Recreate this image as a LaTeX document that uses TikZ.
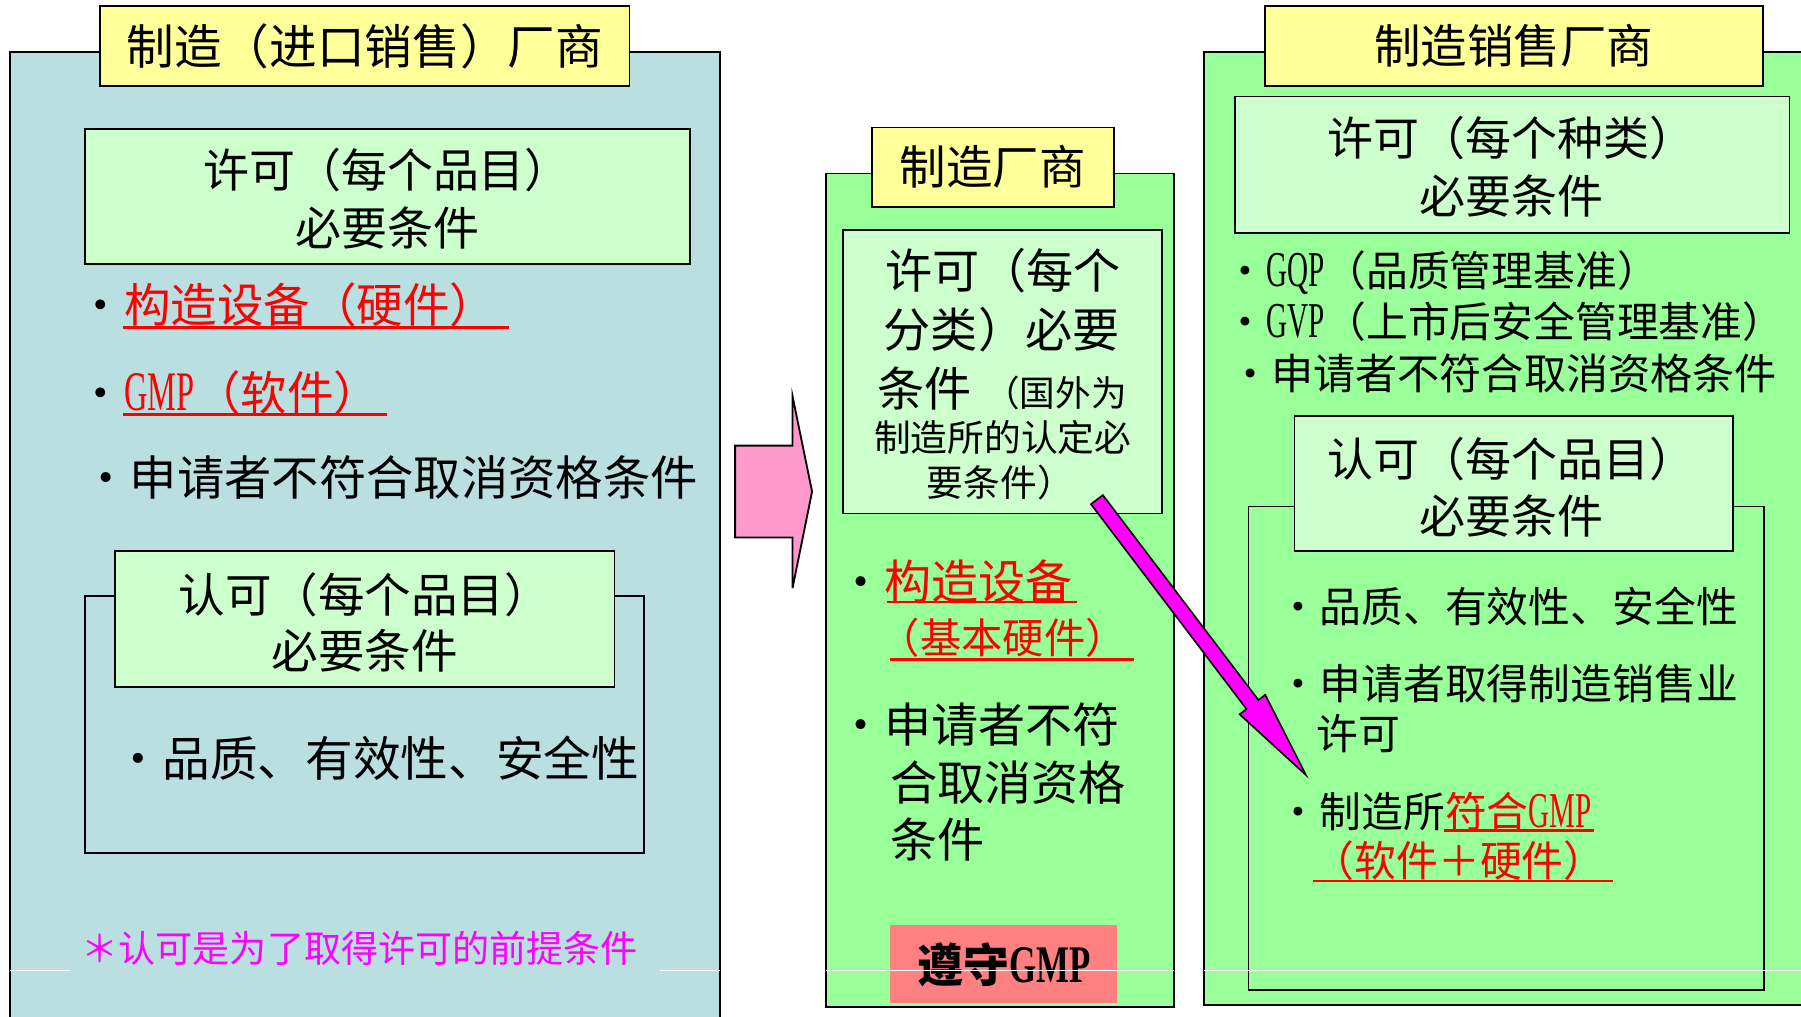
\documentclass[tikz,border=0pt]{standalone}
\usepackage{fontspec}
\setmainfont{Noto Sans CJK SC}
\newfontfamily\latn{Liberation Serif}[Scale=1.2, FakeStretch=0.58]
\newfontfamily\latb{Liberation Serif}[Scale=1.15, FakeStretch=0.66]
\newcommand\fsz[2]{\fontsize{#1}{#2}\selectfont}
\definecolor{lblue}{RGB}{185,223,225}
\definecolor{lyellow}{RGB}{255,255,153}
\definecolor{pgreen}{RGB}{204,255,204}
\definecolor{mgreen}{RGB}{153,255,153}
\definecolor{pinkarr}{RGB}{255,153,204}
\definecolor{salmon}{RGB}{255,128,128}
\definecolor{mag}{RGB}{255,0,255}
\definecolor{ured}{RGB}{255,0,0}
\tikzset{
  boxr/.style={draw=black, line width=1.6pt, anchor=north west, inner sep=0pt, outer sep=0pt},
  txt/.style={inner sep=0pt, outer sep=0pt},
  lt/.style={txt, anchor=west},
  ul/.style={draw=ured, line width=2.2pt},
  artline/.style={draw=white, line width=0.8pt},
}
\begin{document}
\begin{tikzpicture}[x=1pt,y=-1pt]
\useasboundingbox (0,0) rectangle (1568,885);
\fill[white] (0,0) rectangle (1568,885);
\clip (0,0) rectangle (1568,885);

% ---------------- left panel ----------------
\node[boxr, fill=lblue, minimum width=618pt, minimum height=860pt] (Lp) at (9,45) {};
\node[boxr, fill=lyellow, minimum width=461pt, minimum height=70pt] (Lt) at (87,5) {};
\node[txt, font=\fsz{41.5}{41.5}] (Ltt) at (Lt.center) {制造（进口销售）厂商};
\node[boxr, fill=pgreen, minimum width=527pt, minimum height=118pt] (Lx) at (74,112) {};
\node[txt, align=center, font=\fsz{40}{50}] (Lxt) at (337,173) {许可（每个品目）\\必要条件};
\node[lt, font=\fsz{40.5}{40.5}] (Lb1) at (67.5,265.5) {・\textcolor{ured}{构造设备（硬件）}};
\draw[ul] (107,285) -- (443,285);
\node[lt, font=\fsz{40.5}{40.5}] (Lb2) at (67.5,342) {・\textcolor{ured}{{\latn GMP}（软件）}};
\draw[ul] (107,361) -- (337,361);
\node[lt, font=\fsz{41.2}{41.2}] (Lb3) at (71.8,416) {・申请者不符合取消资格条件};
\node[boxr, fill=none, minimum width=487pt, minimum height=224pt] (Lf) at (74,519) {};
\node[boxr, fill=pgreen, minimum width=435pt, minimum height=118pt] (Lr) at (100,480) {};
\node[txt, align=center, font=\fsz{40.5}{49}] (Lrt) at (317.5,542) {认可（每个品目）\\必要条件};
\node[lt, font=\fsz{41.5}{41.5}] (Lb4) at (100,660) {・品质、有效性、安全性};
\draw[artline] (9,845) -- (61,845);
\draw[artline] (575,845) -- (627,845);
\node[lt, font=\fsz{32.3}{32.3}, text=mag] (Lnote) at (71,825.5) {＊认可是为了取得许可的前提条件};

% ---------------- pink arrow ----------------
\draw[fill=pinkarr, line width=1.6pt, line join=miter]
  (640,388) -- (690,388) -- (690,345) -- (707,428) -- (690,512) -- (690,468) -- (640,468) -- cycle;

% ---------------- middle panel ----------------
\node[boxr, fill=mgreen, minimum width=303pt, minimum height=726pt] (Mp) at (719,151) {};
\node[boxr, fill=lyellow, minimum width=211pt, minimum height=69pt] (Mt) at (759,111) {};
\node[txt, font=\fsz{40.5}{40.5}] (Mtt) at (Mt.center) {制造厂商};
\node[boxr, fill=pgreen, minimum width=278pt, minimum height=247pt] (Mx) at (734,200) {};
\node[txt, font=\fsz{41}{41}] (Mx1) at (873,236) {许可（每个};
\node[txt, font=\fsz{41}{41}] (Mx2) at (872,287) {分类）必要};
\node[lt, font=\fsz{41}{41}] (Mx3) at (764,338) {条件\hspace{11pt}{\fsz{31}{31}（国外为}};
\node[txt, font=\fsz{32}{32}] (Mx4) at (873,381) {制造所的认定必};
\node[txt, font=\fsz{32}{32}] (Mx5) at (871,420) {要条件）};
\node[lt, font=\fsz{41}{41}] (Mb1) at (729,506) {・\textcolor{ured}{构造设备}};
\draw[ul] (772,524) -- (938,524);
\node[lt, font=\fsz{36}{36}, text=ured] (Mb1b) at (765,555) {（基本硬件）};
\draw[ul] (775,574) -- (987,574);
\node[lt, font=\fsz{41}{41}] (Mb2) at (729,631) {・申请者不符};
\node[lt, font=\fsz{41}{41}] (Mb2b) at (775,681) {合取消资格};
\node[lt, font=\fsz{41}{41}] (Mb2c) at (775,731) {条件};
\node[anchor=north west, fill=salmon, minimum width=197pt, minimum height=68pt, inner sep=0pt] (Mg) at (775,805) {};
\node[txt, font=\fsz{40}{40}\bfseries] (Mgt) at (874,840) {遵守{\latb GMP}};
\draw[artline] (719,845) -- (1022,845);

% ---------------- right panel ----------------
\node[boxr, fill=mgreen, minimum width=540pt, minimum height=830pt] (Rp) at (1048,45) {};
\node[boxr, fill=lyellow, minimum width=434pt, minimum height=70pt] (Rt) at (1101,5) {};
\node[txt, font=\fsz{40.5}{40.5}] (Rtt) at (Rt.center) {制造销售厂商};
\node[boxr, fill=pgreen, minimum width=483pt, minimum height=119pt] (Rx) at (1075,84) {};
\node[txt, align=center, font=\fsz{40}{50}] (Rxt) at (1316,145) {许可（每个种类）\\必要条件};
\node[lt, font=\fsz{36.4}{36.4}] (Rb1) at (1066,237) {・{\latn GQP}（品质管理基准）};
\node[lt, font=\fsz{36.4}{36.4}] (Rb2) at (1066,280) {・{\latn GVP}（上市后安全管理基准）};
\node[lt, font=\fsz{36.7}{36.7}] (Rb3) at (1070,325) {・申请者不符合取消资格条件};
\node[boxr, fill=none, minimum width=449pt, minimum height=421pt] (Rf) at (1087,441) {};
\node[boxr, fill=pgreen, minimum width=382pt, minimum height=118pt] (Rr) at (1127,362) {};
\node[txt, align=center, font=\fsz{40}{50}] (Rrt) at (1316,424) {认可（每个品目）\\必要条件};
\node[lt, font=\fsz{36.4}{36.4}] (Rb4) at (1112.6,528) {・品质、有效性、安全性};
\node[lt, font=\fsz{36.4}{36.4}] (Rb5) at (1112.6,595) {・申请者取得制造销售业};
\node[lt, font=\fsz{36.4}{36.4}] (Rb5b) at (1146,639) {许可};
\node[lt, font=\fsz{36.4}{36.4}] (Rb6) at (1112.6,706.5) {・制造所\textcolor{ured}{符合{\latn GMP}}};
\draw[ul] (1257,723) -- (1388,723);
\node[lt, font=\fsz{36.4}{36.4}, text=ured] (Rb6b) at (1143,749.5) {（软件＋硬件）};
\draw[ul] (1143,767) -- (1404,767);
\draw[artline] (1048,845) -- (1568,845);

% ---------------- magenta arrow ----------------
\coordinate (aS) at (955,435);
\coordinate (aT) at (1137,675);
\begin{scope}[shift={(aS)}, rotate=-52.8]
  \draw[fill=mag, line width=1.4pt, line join=miter]
    (0,6.5) -- (224,6.5) -- (224,14) -- (301,0) -- (224,-14) -- (224,-6.5) -- (0,-6.5) -- cycle;
\end{scope}
\end{tikzpicture}
\end{document}
